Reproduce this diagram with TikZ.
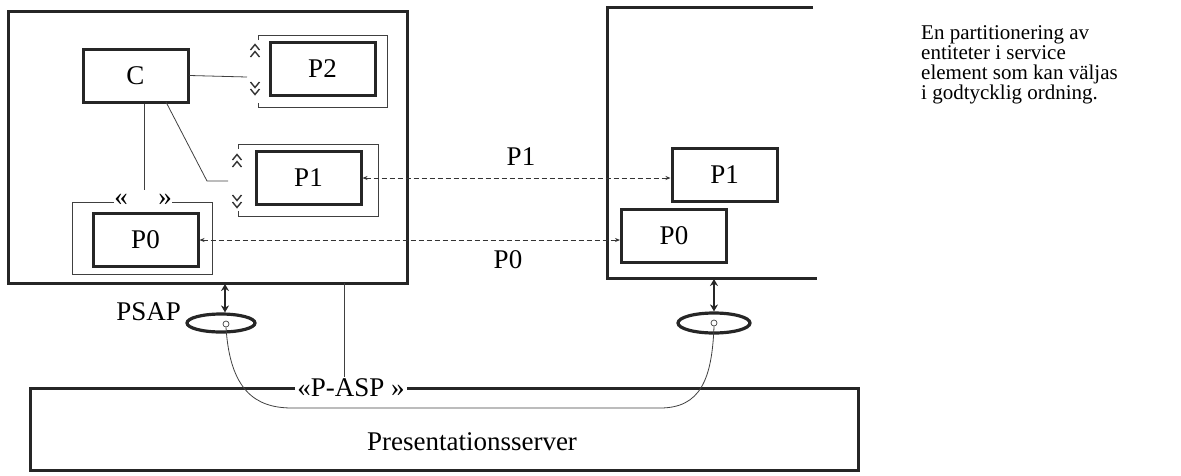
\documentclass[tikz,border=0pt]{standalone}
\usepackage{fontspec}
\setmainfont{Liberation Serif}
\usetikzlibrary{arrows.meta,calc,shapes.geometric}
\begin{document}
\begin{tikzpicture}[x=1pt,y=-1pt,
  frame/.style={draw=black!85, line width=3pt},
  pbox/.style={draw=black!85, line width=3pt, minimum width=105pt, minimum height=53pt, inner sep=0pt, font=\fontsize{27}{30}\selectfont},
  thin/.style={draw=black!75, line width=0.8pt},
  dashline/.style={draw=black!80, line width=0.9pt, dash pattern=on 5pt off 3pt, {Stealth[length=5pt,width=4pt]}-{Stealth[length=5pt,width=4pt]}},
  dbl/.style={draw=black!85, line width=2.6pt, {Stealth[length=7pt,width=8pt]}-{Stealth[length=7pt,width=8pt]}},
  lbl/.style={font=\fontsize{27}{30}\selectfont, inner sep=1pt},
  sap/.style={draw=black!85, line width=3.2pt, ellipse, minimum width=68pt, minimum height=18pt},
  upcar/.pic={\draw[black!80,line width=1.4pt] (-4.5,3)--(0,-2.5)--(4.5,3);},
  dncar/.pic={\draw[black!80,line width=1.4pt] (-4.5,-3)--(0,2.5)--(4.5,-3);}
]
\useasboundingbox (0,0) rectangle (1181,475);

% left system
\draw[frame] (8,11) rectangle (407,283);
\node[pbox] (C) at (135.5,75.5) {C};
\node[pbox] (P2) at (322.5,69) {P2};
\node[pbox] (P1L) at (308.5,178) {P1};
\node[pbox] (P0L) at (145.5,240) {P0};

% brackets
\draw[thin] (258,40) -- (258,35) -- (387,35) -- (387,107) -- (258,107) -- (258,103);
\pic at (255,47) {upcar};
\pic at (255,54) {upcar};
\pic at (255,85) {dncar};
\pic at (255,92) {dncar};

\draw[thin] (238,149) -- (238,144) -- (378,144) -- (378,216) -- (238,216) -- (238,211);
\pic at (237,157) {upcar};
\pic at (237,164) {upcar};
\pic at (237,198) {dncar};
\pic at (237,205) {dncar};

\node[lbl, inner sep=0pt] (gl) at (121,200) {«};
\node[lbl, inner sep=0pt] (gr) at (165,200) {»};
\draw[thin] (gl.west |- 0,202) -- (72,202) -- (72,274) -- (212,274) -- (212,202) -- (gr.east |- 0,202);

% C connections
\coordinate (c2) at (247,77);
\coordinate (c1a) at (207,181);
\coordinate (c1) at (228,181);
\coordinate (c0) at (144,190);
\draw[thin] (C.east) -- (c2);
\draw[thin] (166,102) -- (c1a) -- (c1);
\draw[thin] (C.south -| c0) -- (c0);

% right system
\draw[frame] (813,7) -- (607,7) -- (607,278) -- (817,278);
\node[pbox] (P1R) at (724.5,174.5) {P1};
\node[pbox] (P0R) at (674,236) {P0};

\draw[dashline] (P1L.east) -- (P1L.east -| P1R.west);
\draw[dashline] (P0L.east) -- (P0L.east -| P0R.west);
\node[lbl] (lp1) at (521,157) {P1};
\node[lbl] (lp0) at (508,260) {P0};

% SAPs
\node[sap] (sapL) at (221,323) {};
\node[sap, minimum width=72pt, minimum height=20pt] (sapR) at (714,323) {};
\node[draw=black!75, circle, line width=0.7pt, minimum size=6pt, inner sep=0pt] (oL) at (226,324) {};
\node[draw=black!75, circle, line width=0.7pt, minimum size=6pt, inner sep=0pt] (oR) at (714,323) {};
\draw[dbl] (225,284) -- (sapL.north -| 225,0);
\draw[dbl] (714,279) -- (sapR.north);
\node[lbl, anchor=east] (psap) at (182,312) {PSAP};

% presentation server
\node[lbl, fill=white, inner sep=2pt] (pasp) at (351,388) {«P-ASP »};
\draw[frame] (pasp.west) -- (30,388) -- (30,470) -- (858,470) -- (858,388) -- (pasp.east);
\node[lbl] (ps) at (472,442) {Presentationsserver};
\draw[thin] (344,283) -- (pasp.north -| 344,0);

\draw[thin] (oL.south) .. controls (230,390) and (255,408) .. (292,408) -- (660,408) .. controls (700,408) and (712,380) .. (oR.south);

% side note
\node[anchor=north west, align=left, inner sep=0pt, font=\fontsize{21}{20}\selectfont] (note) at (921,25) {En partitionering av\\entiteter i service\\element som kan väljas\\i godtycklig ordning.};
\end{tikzpicture}
\end{document}
